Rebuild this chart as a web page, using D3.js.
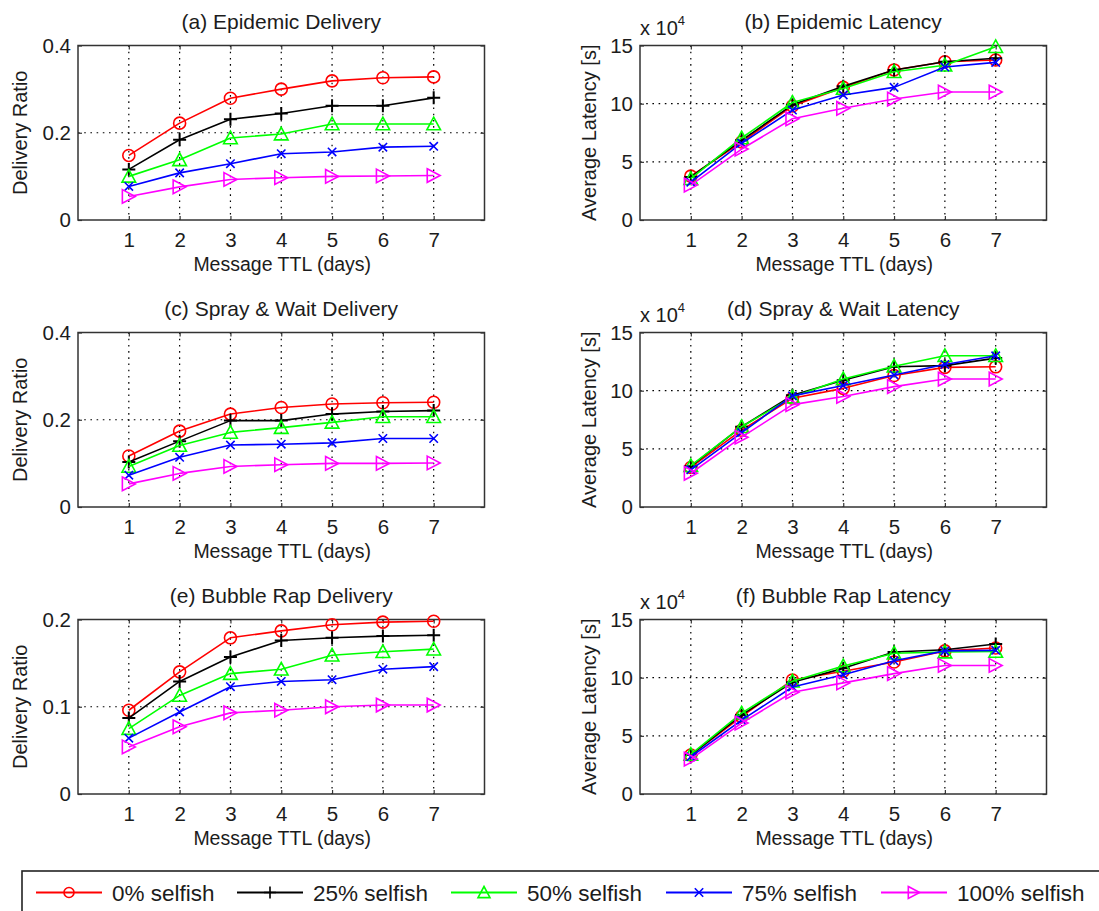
<!DOCTYPE html>
<html>
<head>
<meta charset="utf-8">
<script src="https://cdn.jsdelivr.net/npm/d3@7"></script>
<style>
  html, body { margin: 0; padding: 0; background: #fff; }
  svg { display: block; font-family: "Liberation Sans", Arial, Helvetica, sans-serif; }
</style>
</head>
<body>
<svg id="fig" width="1099" height="911"></svg>
<script>
// Message TTL values on the x axis (days)
const ttlDays = [1, 2, 3, 4, 5, 6, 7];

// Series names, one per selfish share
const seriesNames = ["0% selfish", "25% selfish", "50% selfish", "75% selfish", "100% selfish"];

// Delivery ratio / latency per series (rows follow seriesNames)
const epidemicDelivery = [
  [0.148, 0.222, 0.279, 0.300, 0.319, 0.326, 0.328],
  [0.116, 0.184, 0.231, 0.244, 0.262, 0.262, 0.280],
  [0.100, 0.138, 0.188, 0.197, 0.220, 0.220, 0.220],
  [0.077, 0.108, 0.129, 0.152, 0.156, 0.167, 0.169],
  [0.054, 0.076, 0.093, 0.097, 0.100, 0.101, 0.102]
];
const epidemicLatency = [
  [37700, 67000, 98000, 114000, 129000, 136000, 137500],
  [37000, 68500, 99000, 115000, 129000, 136000, 139000],
  [35500, 70500, 101000, 113000, 127500, 133000, 149000],
  [32500, 66000, 94500, 107500, 114000, 131500, 135500],
  [30000, 61000, 87000, 96000, 104000, 110000, 110000]
];
const sprayDelivery = [
  [0.117, 0.174, 0.213, 0.228, 0.236, 0.239, 0.240],
  [0.103, 0.151, 0.198, 0.198, 0.213, 0.219, 0.221],
  [0.093, 0.141, 0.171, 0.182, 0.194, 0.207, 0.207],
  [0.073, 0.114, 0.142, 0.144, 0.147, 0.157, 0.157],
  [0.053, 0.077, 0.093, 0.097, 0.100, 0.100, 0.101]
];
const sprayLatency = [
  [34000, 66000, 93500, 102000, 113000, 120000, 120500],
  [35000, 69000, 96000, 109000, 120500, 121500, 128000],
  [35500, 69000, 94500, 110000, 121000, 130000, 130000],
  [32000, 64000, 95500, 104500, 113500, 122500, 130000],
  [29000, 60000, 88000, 95000, 103500, 110000, 110000]
];
const bubbleDelivery = [
  [0.096, 0.140, 0.179, 0.187, 0.194, 0.197, 0.198],
  [0.087, 0.129, 0.157, 0.176, 0.179, 0.181, 0.182],
  [0.075, 0.113, 0.138, 0.143, 0.159, 0.163, 0.166],
  [0.064, 0.094, 0.123, 0.129, 0.131, 0.143, 0.146],
  [0.054, 0.077, 0.093, 0.096, 0.100, 0.102, 0.102]
];
const bubbleLatency = [
  [33500, 66500, 98000, 105500, 113500, 123000, 125500],
  [33500, 68000, 96000, 108000, 122000, 124000, 129000],
  [34000, 69500, 97000, 110000, 121000, 122000, 122500],
  [32000, 63500, 92000, 102500, 114500, 123000, 123500],
  [30000, 61000, 87500, 95500, 103500, 110500, 110500]
];

// Axis tick values
const deliveryTicksWide = [0, 0.2, 0.4];
const deliveryTicksNarrow = [0, 0.1, 0.2];
const latencyTicks = [0, 50000, 100000, 150000];

// Panel titles and axis labels
const panelTitles = [
  "(a) Epidemic Delivery", "(b) Epidemic Latency",
  "(c) Spray & Wait Delivery", "(d) Spray & Wait Latency",
  "(e) Bubble Rap Delivery", "(f) Bubble Rap Latency"
];
const xLabel = "Message TTL (days)";
const deliveryLabel = "Delivery Ratio";
const latencyLabel = "Average Latency [s]";

// ---- styling ----
const seriesColors = ["#ff0000", "#000000", "#00ff00", "#0000ff", "#ff00ff"];
const seriesMarkers = ["circle", "plus", "triangle", "cross", "right"];
const textColor = "#1c1c1c";

const svg = d3.select("#fig");
svg.append("rect").attr("width", 1099).attr("height", 911).attr("fill", "#fff");

// Marker outline paths, centred on (0,0)
function markerPath(kind, s) {
  switch (kind) {
    case "circle":
      return `M${s},0A${s},${s} 0 1,1 ${-s},0A${s},${s} 0 1,1 ${s},0Z`;
    case "plus":
      return `M${-s},0H${s}M0,${-s}V${s}`;
    case "triangle":
      return `M0,${-s}L${s},${s * 0.85}L${-s},${s * 0.85}Z`;
    case "cross": {
      const c = s * 0.7;
      return `M${-c},${-c}L${c},${c}M${-c},${c}L${c},${-c}`;
    }
    case "right":
      return `M${-s * 0.95},${-s}L${s * 0.95},0L${-s * 0.95},${s}Z`;
  }
}
const markerSize = { circle: 6, plus: 6.5, triangle: 6.8, cross: 6, right: 6.8 };

const colLeft = [78, 640];
const plotW = 406.5;
const rowTop = [45.5, 332.5, 619.5];
const plotH = 174.5;

const panels = [
  { data: epidemicDelivery, ticks: deliveryTicksWide, ylabel: deliveryLabel, fmt: d => d === 0 ? "0" : d3.format(".1f")(d), exp: false },
  { data: epidemicLatency, ticks: latencyTicks, ylabel: latencyLabel, fmt: d => d / 1e4, exp: true },
  { data: sprayDelivery, ticks: deliveryTicksWide, ylabel: deliveryLabel, fmt: d => d === 0 ? "0" : d3.format(".1f")(d), exp: false },
  { data: sprayLatency, ticks: latencyTicks, ylabel: latencyLabel, fmt: d => d / 1e4, exp: true },
  { data: bubbleDelivery, ticks: deliveryTicksNarrow, ylabel: deliveryLabel, fmt: d => d === 0 ? "0" : d3.format(".1f")(d), exp: false },
  { data: bubbleLatency, ticks: latencyTicks, ylabel: latencyLabel, fmt: d => d / 1e4, exp: true }
];

panels.forEach((p, i) => {
  const col = i % 2, row = Math.floor(i / 2);
  const left = colLeft[col], top = rowTop[row];
  const g = svg.append("g").attr("transform", `translate(${left},${top})`);

  const x = d3.scaleLinear().domain([0, 8]).range([0, plotW]);
  const yMax = p.ticks[p.ticks.length - 1];
  const y = d3.scaleLinear().domain([0, yMax]).range([plotH, 0]);

  // dotted grid
  const grid = g.append("g").attr("stroke", "#000").attr("stroke-width", 1.2)
    .attr("stroke-dasharray", "1.6,4.6");
  grid.selectAll(".vg").data(ttlDays).join("line")
    .attr("x1", d => x(d)).attr("x2", d => x(d)).attr("y1", 0).attr("y2", plotH);
  grid.selectAll(".hg").data(p.ticks.slice(1, -1)).join("line")
    .attr("x1", 0).attr("x2", plotW).attr("y1", d => y(d)).attr("y2", d => y(d));

  // axes with inward ticks
  const xAxis = g.append("g").attr("transform", `translate(0,${plotH})`)
    .call(d3.axisBottom(x).tickValues(ttlDays).tickSize(-4).tickPadding(12));
  const yAxis = g.append("g")
    .call(d3.axisLeft(y).tickValues(p.ticks).tickSize(-4).tickPadding(7).tickFormat(p.fmt));
  const xTop = g.append("g")
    .call(d3.axisTop(x).tickValues(ttlDays).tickSize(-4).tickFormat(""));
  const yRight = g.append("g").attr("transform", `translate(${plotW},0)`)
    .call(d3.axisRight(y).tickValues(p.ticks).tickSize(-4).tickFormat(""));
  [xAxis, yAxis, xTop, yRight].forEach(a => {
    a.select(".domain").remove();
    a.selectAll(".tick line").attr("stroke", "#333").attr("stroke-width", 1.2);
    a.selectAll(".tick text").attr("fill", textColor).attr("font-size", 20.5)
      .attr("font-family", "Liberation Sans, Arial, sans-serif");
  });

  // box
  g.append("rect").attr("x", 0).attr("y", 0).attr("width", plotW).attr("height", plotH)
    .attr("fill", "none").attr("stroke", "#333").attr("stroke-width", 1.5);

  // series
  const line = d3.line().x((d, k) => x(ttlDays[k])).y(d => y(d));
  p.data.forEach((vals, s) => {
    const sg = g.append("g");
    sg.append("path").attr("d", line(vals)).attr("fill", "none")
      .attr("stroke", seriesColors[s]).attr("stroke-width", 1.6).attr("stroke-linejoin", "round");
    sg.selectAll("path.mk").data(vals).join("path").attr("class", "mk")
      .attr("transform", (d, k) => `translate(${x(ttlDays[k])},${y(d)})`)
      .attr("d", markerPath(seriesMarkers[s], markerSize[seriesMarkers[s]]))
      .attr("fill", "none").attr("stroke", seriesColors[s])
      .attr("stroke-width", seriesMarkers[s] === "plus" ? 2 : 1.6);
  });

  // title
  g.append("text").attr("x", plotW / 2).attr("y", -16.5).attr("text-anchor", "middle")
    .attr("font-size", 21).attr("fill", textColor).text(panelTitles[i]);

  // x label
  g.append("text").attr("x", plotW / 2 + 1).attr("y", plotH + 50.5).attr("text-anchor", "middle")
    .attr("font-size", 19.5).attr("fill", textColor).text(xLabel);

  // y label
  const ylx = col === 0 ? -51 : -44;
  g.append("text").attr("transform", `translate(${ylx},${plotH / 2}) rotate(-90)`)
    .attr("text-anchor", "middle").attr("font-size", 20).attr("fill", textColor).text(p.ylabel);

  // exponent note
  if (p.exp) {
    const t = g.append("text").attr("x", 0).attr("y", -10.5)
      .attr("font-size", 20).attr("fill", textColor);
    t.append("tspan").text("x 10");
    t.append("tspan").attr("dy", -10).attr("font-size", 13).text("4");
  }
});

// legend
const lg = svg.append("g");
lg.append("rect").attr("x", 22).attr("y", 871).attr("width", 1100).attr("height", 60)
  .attr("fill", "#fff").attr("stroke", "#222").attr("stroke-width", 1.6);
const legendX = [36, 237, 451, 666, 881];
seriesNames.forEach((name, s) => {
  const lx = legendX[s], ly = 892.5;
  lg.append("line").attr("x1", lx).attr("x2", lx + 66).attr("y1", ly).attr("y2", ly)
    .attr("stroke", seriesColors[s]).attr("stroke-width", 1.8);
  lg.append("path").attr("transform", `translate(${lx + 33},${ly})`)
    .attr("d", markerPath(seriesMarkers[s], seriesMarkers[s] === "circle" ? 5 : 6))
    .attr("fill", "none").attr("stroke", seriesColors[s]).attr("stroke-width", 1.6);
  lg.append("text").attr("x", lx + 76).attr("y", 900.5).attr("font-size", 22.5)
    .attr("fill", textColor).text(name);
});
</script>
</body>
</html>
